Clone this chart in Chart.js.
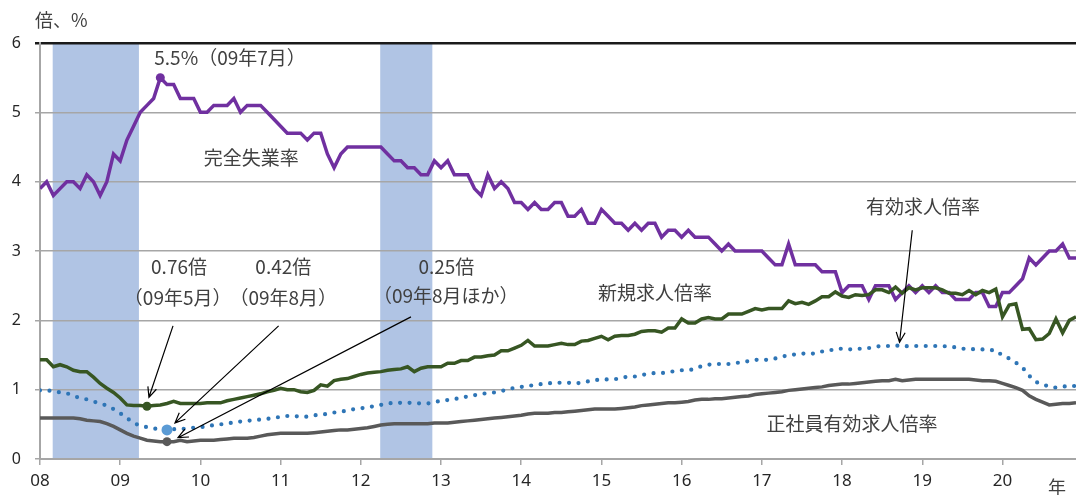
<!DOCTYPE html>
<html>
<head>
<meta charset="utf-8">
<script src="https://cdn.jsdelivr.net/npm/chart.js@4.4.1/dist/chart.umd.min.js"></script>
<style>
  html, body { margin: 0; padding: 0; background: #fff; }
  #wrap { width: 1076px; height: 495px; position: relative; }
</style>
</head>
<body>
<div id="wrap"><canvas id="chart"></canvas></div>
<script>
// Monthly data, Jan 2008 - Dec 2020 (index 0 = Jan 2008)
const yearLabels = ['08', '09', '10', '11', '12', '13', '14', '15', '16', '17', '18', '19', '20'];
const yTicks = [0, 1, 2, 3, 4, 5, 6];

// 完全失業率 (%)
const unemployment = [
  3.9, 4.0, 3.8, 3.9, 4.0, 4.0, 3.9, 4.1, 4.0, 3.8, 4.0, 4.4,
  4.3, 4.6, 4.8, 5.0, 5.1, 5.2, 5.5, 5.4, 5.4, 5.2, 5.2, 5.2,
  5.0, 5.0, 5.1, 5.1, 5.1, 5.2, 5.0, 5.1, 5.1, 5.1, 5.0, 4.9,
  4.8, 4.7, 4.7, 4.7, 4.6, 4.7, 4.7, 4.4, 4.2, 4.4, 4.5, 4.5,
  4.5, 4.5, 4.5, 4.5, 4.4, 4.3, 4.3, 4.2, 4.2, 4.1, 4.1, 4.3,
  4.2, 4.3, 4.1, 4.1, 4.1, 3.9, 3.8, 4.1, 3.9, 4.0, 3.9, 3.7,
  3.7, 3.6, 3.7, 3.6, 3.6, 3.7, 3.7, 3.5, 3.5, 3.6, 3.4, 3.4,
  3.6, 3.5, 3.4, 3.4, 3.3, 3.4, 3.3, 3.4, 3.4, 3.2, 3.3, 3.3,
  3.2, 3.3, 3.2, 3.2, 3.2, 3.1, 3.0, 3.1, 3.0, 3.0, 3.0, 3.0,
  3.0, 2.9, 2.8, 2.8, 3.1, 2.8, 2.8, 2.8, 2.8, 2.7, 2.7, 2.7,
  2.4, 2.5, 2.5, 2.5, 2.3, 2.5, 2.5, 2.5, 2.3, 2.4, 2.5, 2.4,
  2.5, 2.4, 2.5, 2.4, 2.4, 2.3, 2.3, 2.3, 2.4, 2.4, 2.2, 2.2,
  2.4, 2.4, 2.5, 2.6, 2.9, 2.8, 2.9, 3.0, 3.0, 3.1, 2.9, 2.9
];

// 新規求人倍率
const newOpenings = [
  1.43, 1.43, 1.33, 1.36, 1.33, 1.28, 1.26, 1.26, 1.18, 1.09, 1.02, 0.96,
  0.88, 0.78, 0.77, 0.77, 0.76, 0.77, 0.78, 0.80, 0.83, 0.80, 0.80, 0.80,
  0.80, 0.81, 0.81, 0.81, 0.84, 0.86, 0.88, 0.90, 0.92, 0.94, 0.97, 0.99,
  1.02, 1.00, 1.00, 0.97, 0.96, 0.99, 1.07, 1.05, 1.13, 1.15, 1.16, 1.19,
  1.22, 1.24, 1.25, 1.26, 1.28, 1.29, 1.30, 1.33, 1.26, 1.31, 1.33, 1.33,
  1.33, 1.38, 1.38, 1.42, 1.42, 1.47, 1.47, 1.49, 1.50, 1.56, 1.56, 1.60,
  1.64, 1.71, 1.63, 1.63, 1.63, 1.65, 1.67, 1.65, 1.65, 1.70, 1.71, 1.74,
  1.77, 1.72, 1.77, 1.78, 1.78, 1.80, 1.84, 1.85, 1.85, 1.83, 1.89, 1.89,
  2.02, 1.96, 1.96, 2.02, 2.04, 2.02, 2.02, 2.09, 2.09, 2.09, 2.13, 2.17,
  2.15, 2.17, 2.17, 2.17, 2.28, 2.24, 2.26, 2.23, 2.28, 2.34, 2.34, 2.41,
  2.35, 2.33, 2.37, 2.36, 2.37, 2.44, 2.44, 2.40, 2.48, 2.39, 2.47, 2.44,
  2.47, 2.47, 2.47, 2.44, 2.39, 2.39, 2.37, 2.43, 2.37, 2.43, 2.40, 2.45,
  2.05, 2.22, 2.24, 1.87, 1.88, 1.72, 1.73, 1.81, 2.02, 1.82, 2.00, 2.05
];

// 有効求人倍率
const activeOpenings = [
  0.99, 0.99, 0.98, 0.96, 0.95, 0.91, 0.88, 0.86, 0.83, 0.80, 0.77, 0.72,
  0.66, 0.59, 0.52, 0.48, 0.46, 0.44, 0.43, 0.42, 0.43, 0.43, 0.44, 0.45,
  0.46, 0.47, 0.49, 0.50, 0.51, 0.53, 0.54, 0.55, 0.56, 0.57, 0.58, 0.59,
  0.61, 0.62, 0.62, 0.61, 0.61, 0.63, 0.64, 0.65, 0.67, 0.68, 0.70, 0.72,
  0.73, 0.75, 0.76, 0.78, 0.80, 0.81, 0.81, 0.81, 0.81, 0.80, 0.80, 0.82,
  0.84, 0.85, 0.86, 0.89, 0.90, 0.92, 0.94, 0.95, 0.96, 0.98, 1.00, 1.03,
  1.04, 1.05, 1.07, 1.08, 1.09, 1.10, 1.10, 1.10, 1.09, 1.10, 1.12, 1.14,
  1.14, 1.15, 1.15, 1.17, 1.19, 1.19, 1.21, 1.23, 1.24, 1.24, 1.25, 1.27,
  1.28, 1.28, 1.30, 1.34, 1.36, 1.37, 1.37, 1.37, 1.38, 1.40, 1.41, 1.43,
  1.43, 1.43, 1.45, 1.48, 1.49, 1.51, 1.52, 1.52, 1.52, 1.55, 1.56, 1.59,
  1.59, 1.58, 1.59, 1.59, 1.60, 1.62, 1.63, 1.63, 1.64, 1.62, 1.63, 1.63,
  1.63, 1.63, 1.63, 1.63, 1.62, 1.61, 1.59, 1.59, 1.58, 1.58, 1.57, 1.57,
  1.49, 1.45, 1.39, 1.32, 1.20, 1.11, 1.08, 1.04, 1.03, 1.04, 1.06, 1.05
];

// 正社員有効求人倍率
const regularOpenings = [
  0.59, 0.59, 0.59, 0.59, 0.59, 0.59, 0.58, 0.56, 0.55, 0.54, 0.51, 0.47,
  0.42, 0.37, 0.33, 0.30, 0.27, 0.26, 0.25, 0.25, 0.25, 0.27, 0.25, 0.26,
  0.27, 0.27, 0.27, 0.28, 0.29, 0.30, 0.30, 0.30, 0.31, 0.33, 0.35, 0.36,
  0.37, 0.37, 0.37, 0.37, 0.37, 0.38, 0.39, 0.40, 0.41, 0.42, 0.42, 0.43,
  0.44, 0.45, 0.47, 0.49, 0.50, 0.51, 0.51, 0.51, 0.51, 0.51, 0.51, 0.52,
  0.52, 0.52, 0.53, 0.54, 0.55, 0.56, 0.57, 0.58, 0.59, 0.60, 0.61, 0.62,
  0.63, 0.65, 0.66, 0.66, 0.66, 0.67, 0.67, 0.68, 0.69, 0.70, 0.71, 0.72,
  0.72, 0.72, 0.72, 0.73, 0.74, 0.75, 0.77, 0.78, 0.79, 0.80, 0.81, 0.81,
  0.82, 0.83, 0.85, 0.86, 0.86, 0.87, 0.87, 0.88, 0.89, 0.90, 0.91, 0.93,
  0.94, 0.95, 0.96, 0.97, 0.99, 1.00, 1.01, 1.02, 1.03, 1.04, 1.06, 1.07,
  1.08, 1.08, 1.09, 1.10, 1.11, 1.12, 1.13, 1.13, 1.15, 1.13, 1.14, 1.15,
  1.15, 1.15, 1.15, 1.15, 1.15, 1.15, 1.15, 1.15, 1.14, 1.13, 1.13, 1.12,
  1.09, 1.06, 1.03, 0.99, 0.91, 0.86, 0.82, 0.78, 0.79, 0.80, 0.80, 0.81
];

// Recession bands (month index)
const bandStart = [1.9, 50.9];
const bandEnd = [14.8, 58.7];

// Highlighted points (month index)
const peakUnemp = 18;   // 09年7月
const lowNew = 16;      // 09年5月
const lowActive = 19;   // 09年8月
const lowRegular = 19;  // 09年8月ほか
const peakActive = 128; // 18年9月

const toXY = arr => arr.map((v, i) => ({ x: i, y: v }));
const dotAt = (idx, r) => ctx => (ctx.dataIndex === idx ? r : 0);

// Text labels in data coordinates (x = month index, y = value)
const notes = [
  { text: '5.5%（09年7月）', x: 17.1, y: 5.79, align: 'left' },
  { text: '完全失業率', x: 24.5, y: 4.35, align: 'left' },
  { text: '0.76倍', x: 20.8, y: 2.77, align: 'center' },
  { text: '（09年5月）', x: 20.6, y: 2.33, align: 'center' },
  { text: '0.42倍', x: 36.4, y: 2.77, align: 'center' },
  { text: '（09年8月）', x: 36.4, y: 2.33, align: 'center' },
  { text: '0.25倍', x: 60.8, y: 2.77, align: 'center' },
  { text: '（09年8月ほか）', x: 60.7, y: 2.35, align: 'center' },
  { text: '新規求人倍率', x: 92, y: 2.40, align: 'center' },
  { text: '有効求人倍率', x: 132.1, y: 3.64, align: 'center' },
  { text: '正社員有効求人倍率', x: 121.5, y: 0.51, align: 'center' }
];

// Arrows: tail in data coords, tip = data point + pixel offset
const arrows = [
  { fx: 19.9, fy: 1.92, idx: lowNew, series: newOpenings, dx: 2, dy: -9 },
  { fx: 35.7, fy: 1.92, idx: lowActive, series: activeOpenings, dx: 8, dy: -7 },
  { fx: 55.5, fy: 2.05, idx: lowRegular, series: regularOpenings, dx: 11, dy: -4 },
  { fx: 130.5, fy: 3.30, idx: peakActive, series: activeOpenings, dx: 4, dy: -3 }
];

const CJK = '"Noto Sans CJK JP", "Noto Sans", sans-serif';

const bandPlugin = {
  id: 'bands',
  beforeDraw(chart) {
    const { ctx, chartArea, scales } = chart;
    ctx.save();
    ctx.fillStyle = '#b0c4e4';
    bandStart.forEach((s, i) => {
      const x0 = scales.x.getPixelForValue(s);
      const x1 = scales.x.getPixelForValue(bandEnd[i]);
      ctx.fillRect(x0, chartArea.top, x1 - x0, chartArea.bottom - chartArea.top);
    });
    ctx.restore();
  }
};

function drawArrow(ctx, x0, y0, x1, y1) {
  const ang = Math.atan2(y1 - y0, x1 - x0);
  const len = 11, spread = 0.42;
  ctx.beginPath();
  ctx.moveTo(x0, y0);
  ctx.lineTo(x1, y1);
  ctx.moveTo(x1 - len * Math.cos(ang - spread), y1 - len * Math.sin(ang - spread));
  ctx.lineTo(x1, y1);
  ctx.lineTo(x1 - len * Math.cos(ang + spread), y1 - len * Math.sin(ang + spread));
  ctx.stroke();
}

const notePlugin = {
  id: 'notes',
  afterDatasetsDraw(chart) {
    const { ctx, chartArea, scales } = chart;
    ctx.save();
    ctx.fillStyle = '#404040';
    ctx.font = '19px ' + CJK;
    ctx.textBaseline = 'middle';
    notes.forEach(n => {
      ctx.textAlign = n.align;
      ctx.fillText(n.text, scales.x.getPixelForValue(n.x), scales.y.getPixelForValue(n.y));
    });

    // axis captions
    ctx.font = '18px ' + CJK;
    ctx.textAlign = 'left';
    ctx.fillText('倍、%', 35, 20);
    ctx.fillText('年', chartArea.right - 28, chartArea.bottom + 28);

    ctx.strokeStyle = '#000';
    ctx.lineWidth = 1.2;
    arrows.forEach(a => {
      const x0 = scales.x.getPixelForValue(a.fx);
      const y0 = scales.y.getPixelForValue(a.fy);
      const x1 = scales.x.getPixelForValue(a.idx) + a.dx;
      const y1 = scales.y.getPixelForValue(a.series[a.idx]) + a.dy;
      drawArrow(ctx, x0, y0, x1, y1);
    });
    ctx.restore();
  }
};

new Chart(document.getElementById('chart'), {
  type: 'line',
  data: {
    datasets: [
      {
        label: '正社員有効求人倍率',
        data: toXY(regularOpenings),
        borderColor: '#595959',
        borderWidth: 3.5,
        pointRadius: dotAt(lowRegular, 4.5),
        pointBackgroundColor: '#595959',
        pointBorderWidth: 0
      },
      {
        label: '有効求人倍率',
        data: toXY(activeOpenings),
        borderColor: '#2e75b6',
        borderWidth: 4.2,
        borderDash: [0, 9.5],
        borderCapStyle: 'round',
        pointRadius: dotAt(lowActive, 5.5),
        pointStyle: 'circle',
        pointBackgroundColor: '#5b9bd5',
        pointBorderColor: '#5b9bd5',
        pointBorderWidth: 0
      },
      {
        label: '新規求人倍率',
        data: toXY(newOpenings),
        borderColor: '#375623',
        borderWidth: 3.5,
        pointRadius: dotAt(lowNew, 4.5),
        pointBackgroundColor: '#375623',
        pointBorderWidth: 0
      },
      {
        label: '完全失業率',
        data: toXY(unemployment),
        borderColor: '#7030a0',
        borderWidth: 3.5,
        pointRadius: dotAt(peakUnemp, 4.5),
        pointBackgroundColor: '#7030a0',
        pointBorderWidth: 0
      }
    ]
  },
  options: {
    responsive: true,
    maintainAspectRatio: false,
    animation: false,
    layout: { padding: { top: 43, right: 0, left: 0, bottom: 0 } },
    plugins: { legend: { display: false }, tooltip: { enabled: false } },
    elements: { line: { tension: 0 } },
    scales: {
      x: {
        type: 'linear',
        min: 0,
        max: 155,
        afterFit: s => { s.height = 36; },
        ticks: {
          stepSize: 12,
          autoSkip: false,
          maxTicksLimit: 20,
          includeBounds: false,
          maxRotation: 0,
          padding: 6,
          color: '#262626',
          font: { size: 17, family: '"Noto Sans", sans-serif' },
          callback: v => yearLabels[v / 12]
        },
        grid: { drawOnChartArea: false, drawTicks: true, tickLength: 6, color: '#a6a6a6', lineWidth: 1.5 },
        border: { display: true, color: '#a6a6a6', width: 2 }
      },
      y: {
        min: yTicks[0],
        max: yTicks[yTicks.length - 1],
        afterFit: s => { s.width = 40; },
        ticks: {
          stepSize: 1,
          padding: 14,
          color: '#262626',
          font: { size: 16, family: '"Noto Sans", sans-serif' }
        },
        grid: {
          tickLength: 5,
          color: c => (c.tick && c.tick.value === 6 ? '#1a1a1a' : '#a6a6a6'),
          lineWidth: c => (c.tick && c.tick.value === 6 ? 2.5 : 1.5)
        },
        border: { display: true, color: '#a6a6a6', width: 2 }
      }
    }
  },
  plugins: [bandPlugin, notePlugin]
});
</script>
</body>
</html>
